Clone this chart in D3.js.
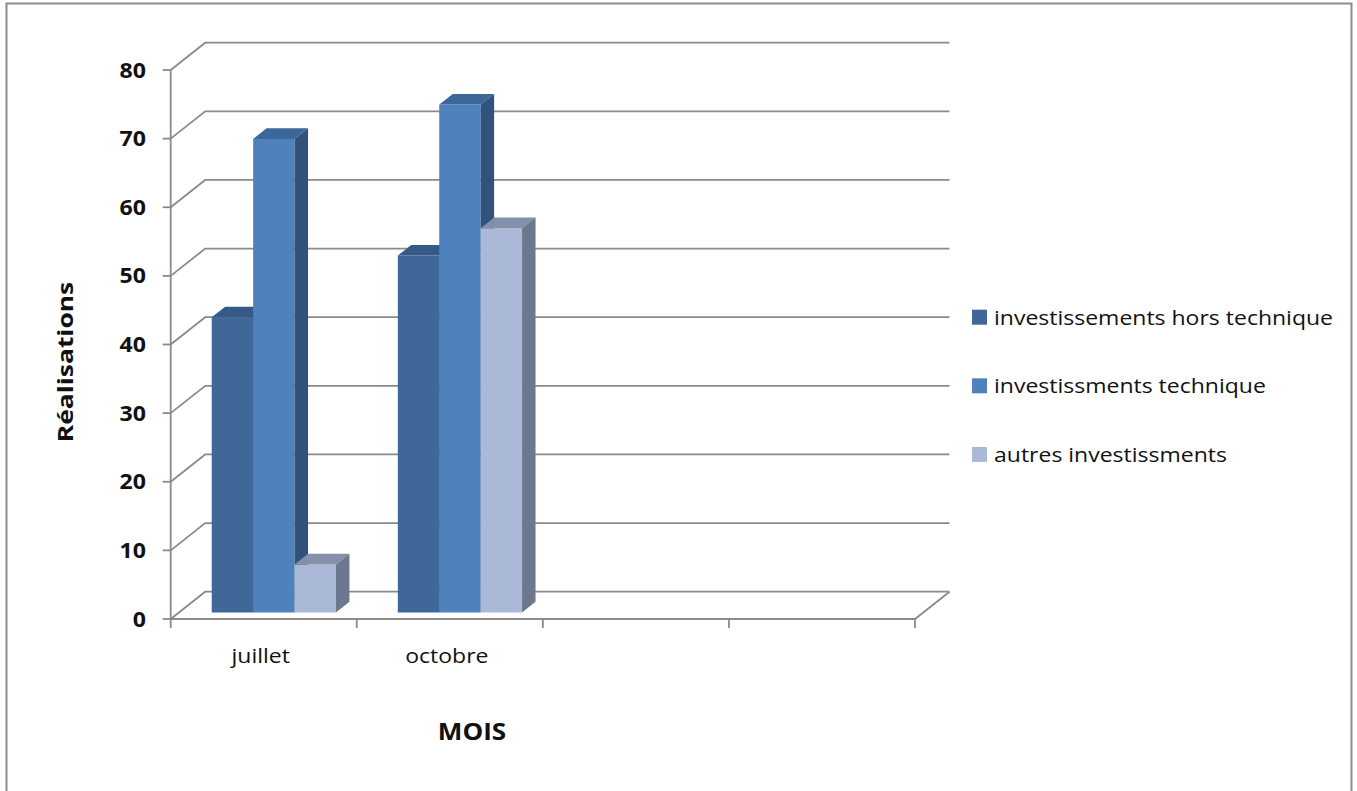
<!DOCTYPE html>
<meta charset="utf-8">
<style>
body { margin: 0; background: #fff; }
text { font-family: "Open Sans", Lato, sans-serif; fill: #111; }
.grid line, .grid path { stroke: #8a8a8a; stroke-width: 1.8px; fill: none; }
</style>
<svg width="1357" height="791"></svg>
<script src="https://d3js.org/d3.v7.min.js"></script>
<script>
// data
var categories = ["juillet", "octobre", "", ""];
var seriesNames = ["investissements hors technique", "investissments technique", "autres investissments"];
var horsTechnique = [43, 52, null, null];
var technique = [69, 74, null, null];
var autres = [7, 56, null, null];
var yTicks = [0, 10, 20, 30, 40, 50, 60, 70, 80];

// face colours: front, top, side
var colors = [
  ["#3f6797", "#355a87", "#2e4d74"],
  ["#4f81bd", "#3c6799", "#30527d"],
  ["#aab9d7", "#8490aa", "#6c7890"]
];

var series = [horsTechnique, technique, autres];

var svg = d3.select("svg");

// text in the original is wide, so stretch it a bit along its run
function place(x, y, sx, rot) {
  return "translate(" + x + "," + y + ")" + (rot ? " rotate(" + rot + ")" : "") + " scale(" + sx + ",1)";
}

// outer frame
svg.append("rect")
    .attr("x", 6.5).attr("y", 3.5)
    .attr("width", 1345).attr("height", 800)
    .attr("fill", "none").attr("stroke", "#8c8c8c").attr("stroke-width", 2);

// 3d depth offset of the floor / back wall
var DX = 34.5, DY = 27.3;
var d0 = 0.24, d1 = 0.63;   // bar front and back depth

var x = d3.scaleBand().domain(d3.range(categories.length)).range([170.7, 915]);
var xs = d3.scaleBand().domain(d3.range(series.length)).range([0, x.bandwidth()])
    .paddingOuter(0.746).align(0.53);
var y = d3.scaleLinear().domain([0, 80]).range([619, 70]);

function P(px, v, d) { return [px + d * DX, y(v) - d * DY]; }

var grid = svg.append("g").attr("class", "grid");
var xl = x.range()[0], xr = x.range()[1];

// back wall gridlines + left wall diagonals
yTicks.forEach(function(t) {
  grid.append("path").attr("d", d3.line()([P(xl, t, 0), P(xl, t, 1), P(xr, t, 1)]));
  grid.append("line")
      .attr("x1", xl - 8).attr("x2", xl)
      .attr("y1", y(t)).attr("y2", y(t));
});
// front axis + floor
grid.append("line").attr("x1", xl).attr("x2", xl).attr("y1", y(80)).attr("y2", y(0));
grid.append("path").attr("d", d3.line()([P(xl, 0, 0), P(xr, 0, 0), P(xr, 0, 1)]));
x.domain().concat([categories.length]).forEach(function(i) {
  var px = i < categories.length ? x(i) : xr;
  grid.append("line").attr("x1", px).attr("x2", px).attr("y1", y(0)).attr("y2", y(0) + 9);
});

// y tick labels
svg.append("g").selectAll("text")
    .data(yTicks)
  .enter().append("text")
    .attr("transform", function(d) { return place(146, y(d) + 7.5, 1.1); })
    .attr("text-anchor", "end")
    .style("font-weight", "bold")
    .style("font-size", "21px")
    .text(function(d) { return d; });

// bars
var bars = svg.append("g");
categories.forEach(function(c, ci) {
  series.forEach(function(s, si) {
    var v = s[ci];
    if (v == null) return;
    var a = x(ci) + xs(si), b = a + xs.bandwidth();
    var col = colors[si];
    bars.append("path")
        .attr("fill", col[0])
        .attr("d", d3.line()([P(a, 0, d0), P(b, 0, d0), P(b, v, d0), P(a, v, d0)]) + "Z");
    bars.append("path")
        .attr("fill", col[1])
        .attr("d", d3.line()([P(a, v, d0), P(b, v, d0), P(b, v, d1), P(a, v, d1)]) + "Z");
    bars.append("path")
        .attr("fill", col[2])
        .attr("d", d3.line()([P(b, 0, d0), P(b, 0, d1), P(b, v, d1), P(b, v, d0)]) + "Z");
  });
});

// category labels
svg.append("g").selectAll("text")
    .data(categories)
  .enter().append("text")
    .attr("transform", function(d, i) { return place(x(i) + x.bandwidth() / 2 - 3, 663, 1.15); })
    .attr("text-anchor", "middle")
    .style("font-size", "20px")
    .text(function(d) { return d; });

// axis titles
svg.append("text")
    .attr("transform", place(472, 740, 1.16))
    .attr("text-anchor", "middle")
    .style("font-weight", "bold").style("font-size", "22.5px")
    .text("MOIS");
svg.append("text")
    .attr("transform", place(73, 362, 1.2, -90))
    .attr("text-anchor", "middle")
    .style("font-weight", "bold").style("font-size", "22px")
    .text("Réalisations");

// legend
var legend = svg.append("g").selectAll("g")
    .data(seriesNames)
  .enter().append("g")
    .attr("transform", function(d, i) { return "translate(972," + (y(40 - i * 10) - 27.3) + ")"; });
legend.append("rect")
    .attr("x", 0).attr("y", -7.5).attr("width", 15).attr("height", 15)
    .attr("fill", function(d, i) { return colors[i][0]; });
legend.append("text")
    .attr("transform", place(22, 7.5, 1.15))
    .style("font-size", "20px")
    .text(function(d) { return d; });
</script>
